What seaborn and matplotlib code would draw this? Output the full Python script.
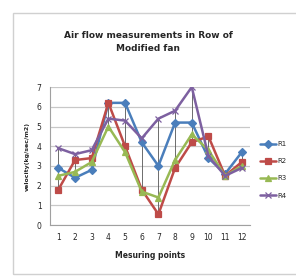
import numpy as np
import pandas as pd
import matplotlib
matplotlib.use("Agg")
import matplotlib.pyplot as plt
import seaborn as sns
from matplotlib.patches import Rectangle

# данные
points = [1, 2, 3, 4, 5, 6, 7, 8, 9, 10, 11, 12]
r1 = [2.9, 2.4, 2.8, 6.2, 6.2, 4.2, 3.0, 5.2, 5.2, 3.4, 2.6, 3.7]
r2 = [1.8, 3.3, 3.4, 6.2, 4.0, 1.8, 0.55, 2.9, 4.2, 4.5, 2.5, 3.2]
r3 = [2.5, 2.7, 3.2, 5.0, 3.7, 1.7, 1.4, 3.3, 4.6, 3.8, 2.5, 3.0]
r4 = [3.9, 3.6, 3.8, 5.4, 5.3, 4.4, 5.4, 5.8, 7.0, 3.5, 2.5, 2.9]
series_names = ["R1", "R2", "R3", "R4"]
colors = ["#4a7ebb", "#be4b48", "#98b954", "#7d60a0"]
markers = ["D", "s", "^", "x"]

df = pd.DataFrame({"point": points * 4,
                   "value": r1 + r2 + r3 + r4,
                   "series": np.repeat(series_names, len(points))})
df["pos"] = df["point"].map({p: i for i, p in enumerate(points)})

sns.set_style("white")
plt.rcParams["font.family"] = ["DejaVu Sans"]

fig = plt.figure(figsize=(2.96, 2.80), dpi=100)
ax = fig.add_axes([0.169, 0.196, 0.676, 0.493])

# рамка вокруг всей диаграммы (как в Excel)
fig.patches.append(Rectangle((0.043, 0.02), 0.99, 0.935, transform=fig.transFigure,
                             fill=False, edgecolor="#d0d0d0", linewidth=1.0))

# линии high-low
vals = np.array([r1, r2, r3, r4])
ax.vlines(range(len(points)), vals.min(axis=0), vals.max(axis=0),
          color="#555555", linewidth=0.6, zorder=1)

for name, col, mk in zip(series_names, colors, markers):
    sub = df[df["series"] == name]
    sns.lineplot(data=sub, x="pos", y="value", color=col, marker=mk,
                 markeredgecolor=col, markerfacecolor=col,
                 linewidth=1.8, markersize=4, markeredgewidth=0.9,
                 label=name, ax=ax, zorder=3)

ax.set_xlim(-0.5, len(points) - 0.5)
ax.set_ylim(0, 7)
ax.set_yticks(range(0, 8))
ax.set_xticks(range(len(points)))
ax.set_xticklabels([str(p) for p in points])
ax.tick_params(axis="both", labelsize=5.5, length=0, pad=6)
ax.yaxis.grid(True, color="#c8c8c8", linewidth=0.9)
for s in ["top", "right"]:
    ax.spines[s].set_visible(False)
ax.spines["left"].set_color("#a0a0a0")
ax.spines["bottom"].set_color("#a0a0a0")

ax.set_xlabel("Mesuring points", fontsize=5.5, fontweight="bold", labelpad=6)
ax.set_ylabel("velocity(kg/sec/m2)", fontsize=4.5, fontweight="bold", labelpad=5)
fig.text(0.5, 0.85, "Air flow measurements in Row of\nModified fan", ha="center",
         va="center", fontsize=6.5, fontweight="bold", linespacing=1.6)

ax.legend(loc="center left", bbox_to_anchor=(1.02, 0.4), frameon=False,
          fontsize=5, handlelength=2.2, labelspacing=1.6, handletextpad=0.2)

fig.savefig("out.png", dpi=100)
